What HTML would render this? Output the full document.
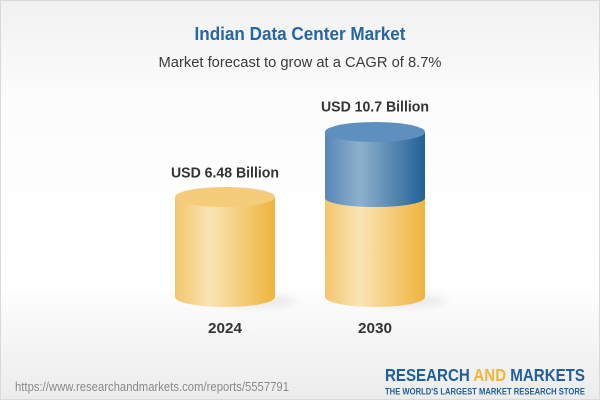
<!DOCTYPE html>
<html><head><meta charset="utf-8"><style>
html,body{margin:0;padding:0;}
body{width:600px;height:400px;overflow:hidden;}
svg{display:block;}
</style></head><body>
<svg width="600" height="400" viewBox="0 0 600 400" xmlns="http://www.w3.org/2000/svg">
<defs>
<linearGradient id="bg" x1="0" y1="0" x2="0" y2="1">
<stop offset="0" stop-color="#f1f1f1"/>
<stop offset="0.25" stop-color="#fcfcfc"/>
<stop offset="0.7" stop-color="#ffffff"/>
<stop offset="1" stop-color="#ececec"/>
</linearGradient>
<linearGradient id="gold" x1="0" y1="0" x2="1" y2="0">
<stop offset="0" stop-color="#f3c66c"/>
<stop offset="0.35" stop-color="#fae4b5"/>
<stop offset="1" stop-color="#efb43c"/>
</linearGradient>
<linearGradient id="blue" x1="0" y1="0" x2="1" y2="0">
<stop offset="0" stop-color="#5787b8"/>
<stop offset="0.35" stop-color="#8eb0cd"/>
<stop offset="1" stop-color="#226096"/>
</linearGradient>
<filter id="blur" x="-50%" y="-100%" width="200%" height="300%"><feGaussianBlur stdDeviation="4"/></filter>
</defs>
<rect x="0" y="0" width="600" height="400" fill="url(#bg)"/>
<rect x="0.5" y="0.5" width="599" height="399" fill="none" stroke="#d9d9d9" stroke-width="1"/>

<text x="300" y="40" text-anchor="middle" font-family="Liberation Sans, sans-serif" font-weight="bold" font-size="18" fill="#2566a4" textLength="211" lengthAdjust="spacingAndGlyphs">Indian Data Center Market</text>
<text x="300" y="67" text-anchor="middle" font-family="Liberation Sans, sans-serif" font-size="15" fill="#3a3a3a" textLength="283" lengthAdjust="spacingAndGlyphs">Market forecast to grow at a CAGR of 8.7%</text>

<!-- shadows -->
<ellipse cx="258" cy="301" rx="38" ry="6" fill="#d6d6d6" filter="url(#blur)" opacity="0.5"/>
<ellipse cx="408" cy="301" rx="38" ry="6" fill="#d6d6d6" filter="url(#blur)" opacity="0.5"/>

<!-- left cylinder -->
<path d="M175,197 L175,297 A50,10 0 0 0 275,297 L275,197 Z" fill="url(#gold)"/>
<ellipse cx="225" cy="197" rx="50" ry="10" fill="#f5cc7a"/>

<!-- right cylinder -->
<path d="M325,198 L325,297 A50,10 0 0 0 425,297 L425,198 Z" fill="url(#gold)"/>
<path d="M325,132 L325,198 A50,9 0 0 0 425,198 L425,132 Z" fill="url(#blue)"/>
<ellipse cx="375" cy="132" rx="50" ry="10" fill="#5d90be"/>

<text x="225" y="177.5" text-anchor="middle" font-family="Liberation Sans, sans-serif" font-weight="bold" font-size="14.5" fill="#333" textLength="108" lengthAdjust="spacingAndGlyphs">USD 6.48 Billion</text>
<text x="375" y="111.5" text-anchor="middle" font-family="Liberation Sans, sans-serif" font-weight="bold" font-size="14.5" fill="#333" textLength="108" lengthAdjust="spacingAndGlyphs">USD 10.7 Billion</text>

<text x="225" y="333" text-anchor="middle" font-family="Liberation Sans, sans-serif" font-weight="bold" font-size="14.5" fill="#333" textLength="34" lengthAdjust="spacingAndGlyphs">2024</text>
<text x="375" y="333" text-anchor="middle" font-family="Liberation Sans, sans-serif" font-weight="bold" font-size="14.5" fill="#333" textLength="34" lengthAdjust="spacingAndGlyphs">2030</text>

<text x="15" y="391" font-family="Liberation Sans, sans-serif" font-size="12.5" fill="#8a8a8a" textLength="274" lengthAdjust="spacingAndGlyphs">https://www.researchandmarkets.com/reports/5557791</text>

<text x="385" y="381" font-family="Liberation Sans, sans-serif" font-weight="bold" font-size="17.5" fill="#1f5f9b" textLength="200" lengthAdjust="spacingAndGlyphs">RESEARCH <tspan fill="#f2b43a">AND</tspan> MARKETS</text>
<text x="385" y="394.5" font-family="Liberation Sans, sans-serif" font-weight="bold" font-size="9" fill="#1f5f9b" textLength="200" lengthAdjust="spacingAndGlyphs">THE WORLD'S LARGEST MARKET RESEARCH STORE</text>
</svg>
</body></html>
